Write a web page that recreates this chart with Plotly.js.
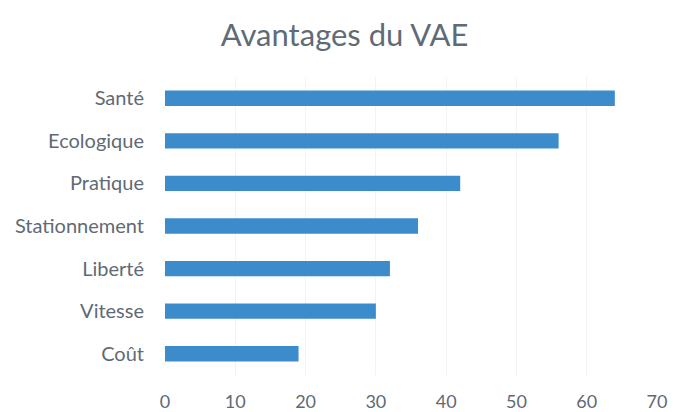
<!DOCTYPE html>
<html><head><meta charset="utf-8">
<script src="https://cdn.plot.ly/plotly-3.0.1.min.js"></script>
<style>html,body{margin:0;padding:0;background:#fff;}#chart{width:673px;height:412px;}</style>
</head><body><div id="chart"></div>
<script>
const categories = ["Santé","Ecologique","Pratique","Stationnement","Liberté","Vitesse","Coût"];
const values = [64, 56, 42, 36, 32, 30, 19];
const tickValues = [0,10,20,30,40,50,60,70];

const trace = {
  type: 'bar', orientation: 'h',
  x: values.slice().reverse(),
  y: categories.slice().reverse(),
  marker: {color: '#3C8BCB'},
  hoverinfo: 'x+y'
};
const layout = {
  width: 673, height: 412,
  margin: {l: 165, r: 16, t: 77, b: 37},
  paper_bgcolor: '#fff', plot_bgcolor: '#fff',
  bargap: 0.64,
  showlegend: false,
  title: {text: 'Avantages du VAE', x: 0.512, xanchor: 'center', y: 0.915, yanchor: 'middle',
          font: {family: 'Lato', size: 31, color: '#5F6B77'}},
  font: {family: 'Lato', color: '#5F6A75'},
  xaxis: {range: [0, 70], tickvals: tickValues, ticktext: tickValues.map(String),
          showgrid: true, gridcolor: '#F3F3F3', zeroline: false, showline: false,
          ticks: '', ticklabelstandoff: 14, tickfont: {family: 'Lato', size: 18, color: '#5F6A75'}},
  yaxis: {showgrid: false, zeroline: false, showline: false, ticks: '',
          ticklabelstandoff: 20, tickfont: {family: 'Lato', size: 20, color: '#5F6A75'}}
};
Plotly.newPlot('chart', [trace], layout, {displayModeBar: false, staticPlot: true});
</script></body></html>
